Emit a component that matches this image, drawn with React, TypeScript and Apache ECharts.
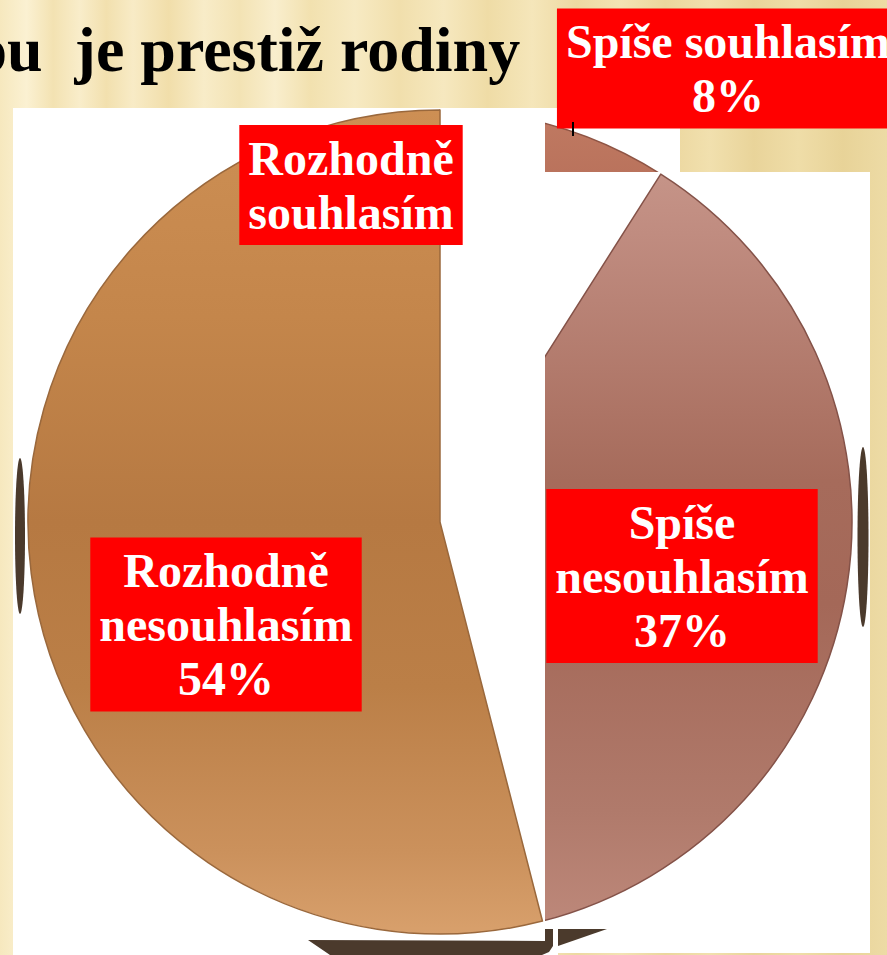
import React, { useEffect, useRef } from "react";
import * as echarts from "echarts";

// ---- data ----
const categories = ["Rozhodně souhlasím", "Spíše souhlasím", "Spíše nesouhlasím", "Rozhodně nesouhlasím"];
const labelTexts = ["Rozhodně\nsouhlasím", "Spíše souhlasím", "Spíše\nnesouhlasím", "Rozhodně\nnesouhlasím"];
const values = [1, 8, 37, 54];
const showPercent = [false, true, true, true];
const titleText = "ou  je prestiž rodiny";

// ---- layout ----
const W = 887;
const H = 955;
const CX = 440;
const CY = 522;
const R = 412;
const labelCenters = [
  [351, 185],
  [728, 68.5],
  [682, 576],
  [226, 624.5],
];

const grad = (stops: [number, string][]) => ({
  type: "linear",
  x: 0,
  y: CY - R,
  x2: 0,
  y2: CY + R,
  global: true,
  colorStops: stops.map(([offset, color]) => ({ offset, color })),
});

const fills = [
  grad([[0, "#CB8E55"], [1, "#C48650"]]),
  grad([[0, "#C07A62"], [0.15, "#B46C57"], [1, "#A86050"]]),
  grad([
    [0, "#CB9C90"],
    [0.15, "#C08C80"],
    [0.45, "#A66B5B"],
    [0.6, "#A46858"],
    [0.85, "#B07A6B"],
    [1, "#BE897B"],
  ]),
  grad([
    [0, "#CD8F54"],
    [0.25, "#C4864B"],
    [0.5, "#B67942"],
    [0.7, "#BB7F47"],
    [0.9, "#CB915C"],
    [1, "#D8A06C"],
  ]),
];
const borders = ["#9E6A3E", "#8E5444", "#845248", "#9A683C"];

const stripeStops: [number, string][] = [
  [0, "#F6E8BE"], [0.03, "#FBF1D2"], [0.06, "#F3E2B2"], [0.09, "#F9EDCA"],
  [0.12, "#F2E0AE"], [0.15, "#F8EBC6"], [0.19, "#F1DEAA"], [0.23, "#F8ECC8"],
  [0.27, "#F3E3B4"], [0.31, "#F9EECD"], [0.35, "#F2E1AF"], [0.4, "#F7EAC3"],
  [0.45, "#F1DFAC"], [0.5, "#F6E8BF"], [0.55, "#EFDCA6"], [0.6, "#F5E6BA"],
  [0.65, "#EDD9A2"], [0.7, "#F3E3B4"], [0.75, "#EBD69D"], [0.8, "#F1E0AE"],
  [0.85, "#E9D49A"], [0.9, "#EFDDA8"], [0.95, "#E8D398"], [1, "#EDDBA5"],
];

const SERIF = '"Liberation Serif", "Times New Roman", serif';

function makeSeries(visible: number[], z: number, withLabels: boolean) {
  return {
    type: "pie",
    z,
    center: [CX, CY],
    radius: [0, R],
    startAngle: 90,
    clockwise: true,
    silent: true,
    avoidLabelOverlap: false,
    emphasis: { disabled: true },
    data: values.map((v, i) => ({
      value: v,
      name: categories[i],
      itemStyle: visible.includes(i)
        ? { color: fills[i], borderColor: borders[i], borderWidth: 1.5 }
        : { color: "rgba(0,0,0,0)", borderWidth: 0, borderColor: "rgba(0,0,0,0)" },
    })),
    label: withLabels
      ? {
          show: true,
          position: "inside",
          formatter: (p: any) =>
            labelTexts[p.dataIndex] + (showPercent[p.dataIndex] ? "\n" + p.value + "%" : ""),
          color: "#FFFFFF",
          fontFamily: SERIF,
          fontWeight: "bold",
          fontSize: 48,
          lineHeight: 54,
          backgroundColor: "#FF0000",
          padding: [6, 9],
          align: "center",
          verticalAlign: "middle",
        }
      : { show: false },
    labelLine: { show: false },
    labelLayout: withLabels
      ? (p: any) => ({ x: labelCenters[p.dataIndex][0], y: labelCenters[p.dataIndex][1] })
      : undefined,
  };
}

export default function App() {
  const ref = useRef<HTMLDivElement>(null);
  useEffect(() => {
    if (!ref.current) return;
    const chart = echarts.init(ref.current, undefined, { renderer: "svg" });
    const dark = "#4B3A2C";
    chart.setOption({
      animation: false,
      graphic: {
        elements: [
          {
            type: "rect",
            z: -10,
            silent: true,
            shape: { x: 0, y: 0, width: W, height: H },
            style: {
              fill: {
                type: "linear",
                x: 0,
                y: 0,
                x2: 1,
                y2: 0,
                colorStops: stripeStops.map(([offset, color]) => ({ offset, color })),
              },
            },
          },
          { type: "rect", z: -9, silent: true, shape: { x: 13, y: 108, width: 545, height: 847 }, style: { fill: "#FFFFFF" } },
          { type: "rect", z: -9, silent: true, shape: { x: 545, y: 108, width: 135, height: 64 }, style: { fill: "#FFFFFF" } },
          { type: "rect", z: 3, silent: true, shape: { x: 545, y: 172, width: 325, height: 781 }, style: { fill: "#FFFFFF" } },
          { type: "rect", z: 5, silent: true, shape: { x: 440, y: 108, width: 105, height: 847 }, style: { fill: "#FFFFFF" } },
          { type: "ellipse", z: 5.5, silent: true, shape: { cx: 20, cy: 536, rx: 5, ry: 78 }, style: { fill: dark } },
          { type: "ellipse", z: 5.5, silent: true, shape: { cx: 863, cy: 537, rx: 5.5, ry: 90 }, style: { fill: dark } },
          {
            type: "polygon",
            z: 5.5,
            silent: true,
            shape: {
              points: [
                [308, 940], [545, 941], [545, 929], [553, 929], [553, 946],
                [549, 952], [542, 955], [330, 955],
              ],
            },
            style: { fill: dark },
          },
          {
            type: "polygon",
            z: 5.5,
            silent: true,
            shape: { points: [[558, 929], [607, 929], [558, 946]] },
            style: { fill: dark },
          },
          {
            type: "line",
            z: 7,
            silent: true,
            shape: { x1: 573, y1: 122, x2: 573, y2: 136 },
            style: { stroke: "#000000", lineWidth: 2 },
          },
          {
            type: "text",
            z: 8,
            silent: true,
            x: -25,
            y: 49,
            style: {
              text: titleText,
              font: `bold 64px ${SERIF}`,
              fill: "#000000",
              align: "left",
              verticalAlign: "middle",
              textAlign: "left",
              textVerticalAlign: "middle",
            },
          },
        ],
      },
      series: [
        makeSeries([0, 1], 2, false),
        makeSeries([2], 4, false),
        makeSeries([3], 6, true),
      ],
    });
    return () => chart.dispose();
  }, []);
  return (
    <div
      ref={ref}
      style={{ position: "absolute", left: 0, top: 0, width: W, height: H }}
    />
  );
}
